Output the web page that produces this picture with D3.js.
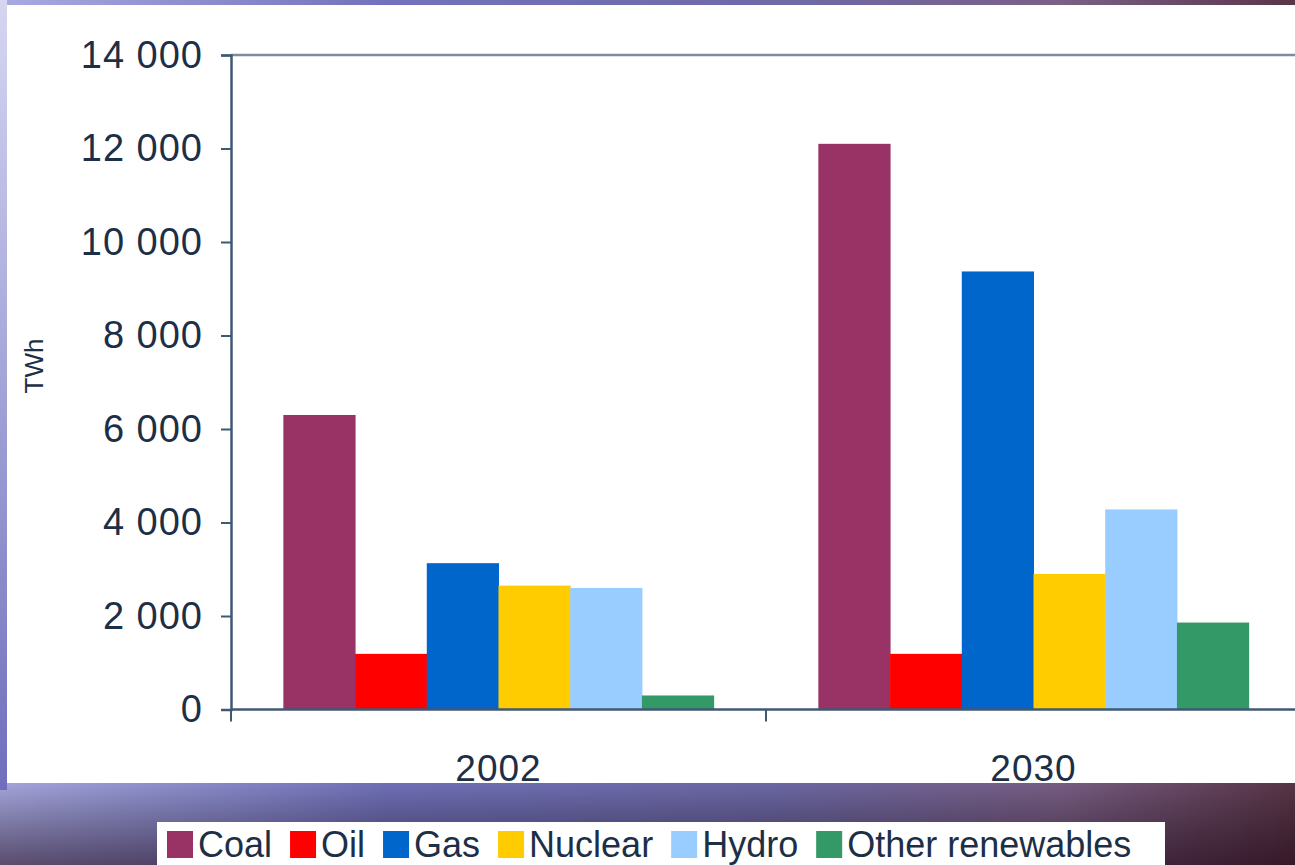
<!DOCTYPE html>
<html>
<head>
<meta charset="utf-8">
<script src="https://cdn.jsdelivr.net/npm/d3@7"></script>
<style>
  body { margin: 0; overflow: hidden; }
  svg { display: block; font-family: "Liberation Sans", Arial, sans-serif; }
</style>
</head>
<body>
<svg id="chart" width="1295" height="865"></svg>
<script>
// data
var years = ['2002', '2030'];
var sources = ['Coal', 'Oil', 'Gas', 'Nuclear', 'Hydro', 'Other renewables'];
var colors = ['#993366', '#ff0000', '#0066cc', '#ffcc00', '#99ccff', '#339966'];
var values2002 = [6300, 1190, 3130, 2650, 2600, 300];
var values2030 = [12100, 1190, 9370, 2900, 4280, 1860];
var yTicks = [0, 2000, 4000, 6000, 8000, 10000, 12000, 14000];

(function() {
  var rows = years.map(function(yr, i) {
    var v = i === 0 ? values2002 : values2030;
    return { year: yr, values: sources.map(function(s, j) { return { source: s, value: v[j], color: colors[j] }; }) };
  });

  var svg = d3.select('#chart');
  var W = 1295, H = 865;
  var textColor = '#1c2f47';

  // background (slide frame)
  var defs = svg.append('defs');
  var g1 = defs.append('linearGradient').attr('id', 'bg').attr('x1', 0).attr('x2', 1).attr('y1', 0).attr('y2', 0);
  g1.append('stop').attr('offset', 0).attr('stop-color', '#a9a9e2');
  g1.append('stop').attr('offset', 0.3).attr('stop-color', '#7272bc');
  g1.append('stop').attr('offset', 0.6).attr('stop-color', '#6e6aa8');
  g1.append('stop').attr('offset', 0.82).attr('stop-color', '#7a5f86');
  g1.append('stop').attr('offset', 1).attr('stop-color', '#5a3548');
  var g2 = defs.append('linearGradient').attr('id', 'shade').attr('x1', 0).attr('x2', 0).attr('y1', 0).attr('y2', 1);
  g2.append('stop').attr('offset', 0).attr('stop-color', '#000').attr('stop-opacity', 0);
  g2.append('stop').attr('offset', 0.9).attr('stop-color', '#000').attr('stop-opacity', 0);
  g2.append('stop').attr('offset', 1).attr('stop-color', '#1a0010').attr('stop-opacity', 0.55);
  var g3 = defs.append('linearGradient').attr('id', 'leftstrip').attr('x1', 0).attr('x2', 0).attr('y1', 0).attr('y2', 1);
  g3.append('stop').attr('offset', 0).attr('stop-color', '#d6d6f2');
  g3.append('stop').attr('offset', 1).attr('stop-color', '#6e6ebc');

  svg.append('rect').attr('width', W).attr('height', H).attr('fill', 'url(#bg)');
  svg.append('rect').attr('width', W).attr('height', H).attr('fill', 'url(#shade)');
  svg.append('rect').attr('width', 7).attr('height', 790).attr('fill', 'url(#leftstrip)');

  defs.append('clipPath').attr('id', 'panel')
    .append('rect').attr('x', 7).attr('y', 5).attr('width', W - 7).attr('height', 778);

  var panel = svg.append('g').attr('clip-path', 'url(#panel)');
  panel.append('rect').attr('x', 7).attr('y', 5).attr('width', W - 7).attr('height', 778).attr('fill', '#ffffff');

  // scales
  var plotLeft = 231, plotTop = 55, plotBottom = 709.5;
  var x0 = d3.scaleBand().domain(years).range([plotLeft, plotLeft + 2 * 535]);
  var x1 = d3.scaleBand().domain(sources).range([0, x0.bandwidth()]).paddingOuter(0.73);
  var y = d3.scaleLinear().domain([0, 14000]).range([plotBottom, plotTop]);

  // bars
  panel.selectAll('g.group').data(rows).enter().append('g')
    .attr('class', 'group')
    .attr('transform', function(d) { return 'translate(' + x0(d.year) + ',0)'; })
    .selectAll('rect').data(function(d) { return d.values; }).enter().append('rect')
    .attr('x', function(d) { return x1(d.source); })
    .attr('width', x1.bandwidth() + 0.5)
    .attr('y', function(d) { return y(d.value); })
    .attr('height', function(d) { return plotBottom - y(d.value); })
    .attr('fill', function(d) { return d.color; });

  // top frame line
  panel.append('line')
    .attr('x1', plotLeft).attr('x2', W).attr('y1', y(14000)).attr('y2', y(14000))
    .attr('stroke', '#7d8c9c').attr('stroke-width', 2.5);

  // y axis
  var fmt = d3.formatLocale({ decimal: '.', thousands: ' ', grouping: [3], currency: ['', ''] }).format(',');
  var yAxis = panel.append('g')
    .attr('transform', 'translate(' + plotLeft + ',0)')
    .call(d3.axisLeft(y).tickValues(yTicks).tickFormat(fmt).tickSize(10).tickPadding(18));
  yAxis.select('.domain').attr('stroke', '#3f5874').attr('stroke-width', 2.5);
  yAxis.selectAll('.tick line').attr('stroke', '#3f5874').attr('stroke-width', 2);
  yAxis.selectAll('.tick text').attr('fill', textColor)
    .style('font-size', '38px').style('letter-spacing', '1px');

  // x axis line and category ticks
  panel.append('line')
    .attr('x1', plotLeft).attr('x2', W).attr('y1', plotBottom).attr('y2', plotBottom)
    .attr('stroke', '#3f5874').attr('stroke-width', 2.5);
  panel.selectAll('line.xtick').data(years).enter().append('line')
    .attr('class', 'xtick')
    .attr('x1', function(d) { return x0(d); }).attr('x2', function(d) { return x0(d); })
    .attr('y1', plotBottom).attr('y2', plotBottom + 12)
    .attr('stroke', '#3f5874').attr('stroke-width', 2);
  panel.selectAll('text.year').data(years).enter().append('text')
    .attr('class', 'year')
    .attr('x', function(d) { return x0(d) + x0.bandwidth() / 2; })
    .attr('y', 781)
    .attr('text-anchor', 'middle')
    .attr('fill', textColor)
    .style('font-size', '37px').style('letter-spacing', '1px')
    .text(function(d) { return d; });

  // y title
  panel.append('text')
    .attr('transform', 'translate(43,366) rotate(-90)')
    .attr('text-anchor', 'middle')
    .attr('fill', textColor)
    .style('font-size', '26px')
    .text('TWh');

  // legend
  var legend = svg.append('g');
  legend.append('rect').attr('x', 157).attr('y', 822).attr('width', 1008).attr('height', 50).attr('fill', '#ffffff');
  var lx = 167;
  sources.forEach(function(s, i) {
    legend.append('rect').attr('x', lx).attr('y', 831).attr('width', 26).attr('height', 27).attr('fill', colors[i]);
    var t = legend.append('text').attr('x', lx + 31).attr('y', 857)
      .attr('fill', textColor).style('font-size', '36px').text(s);
    lx += 31 + t.node().getComputedTextLength() + 18;
  });
})();
</script>
</body>
</html>
